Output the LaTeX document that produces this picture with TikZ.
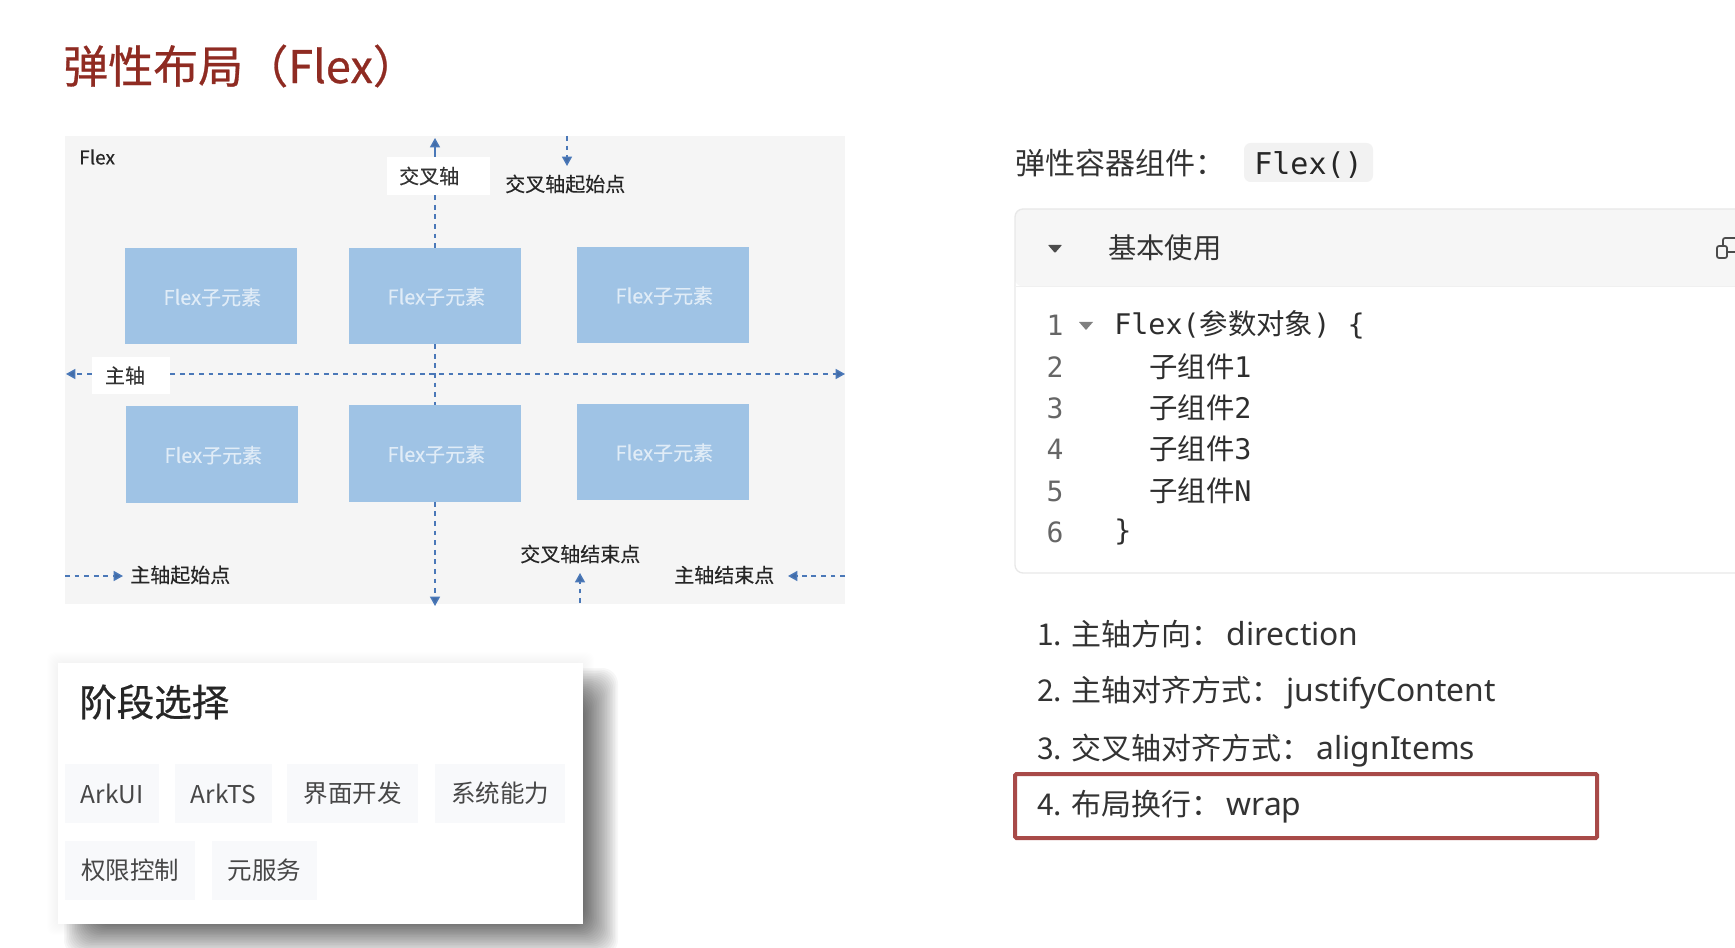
\documentclass[tikz,border=0pt]{standalone}
\usepackage{fontspec}
\usetikzlibrary{arrows.meta}
\setmainfont{Noto Sans CJK SC}
\setmonofont{DejaVu Sans Mono}
\newfontfamily\cj{Noto Sans CJK SC}
\newfontfamily\cjmed[FakeBold=0.6]{Noto Sans CJK SC}
\newfontfamily\cjsemi[FakeBold=0.3]{Noto Sans CJK SC}
\newfontfamily\lat{Noto Sans}
\newcommand{\fs}[1]{\fontsize{\fpeval{#1*0.75}pt}{\fpeval{#1*0.9}pt}\selectfont}
\newcommand{\latin}[1]{\hspace{4pt}{\lat\fs{31.8}#1}}
\definecolor{panelgray}{HTML}{F5F5F5}
\definecolor{childblue}{HTML}{9FC3E5}
\definecolor{childtext}{HTML}{E0ECF7}
\definecolor{axisblue}{HTML}{4A78B8}
\definecolor{titlered}{HTML}{8F2B22}
\definecolor{boxred}{HTML}{A84A48}
\definecolor{chipgray}{HTML}{F8F9FB}
\definecolor{txt}{HTML}{333333}
\tikzset{
  x=0.75pt,y=-0.75pt,
  child/.style={fill=childblue,text=childtext,font=\cjsemi\fs{20},inner sep=0pt,minimum width=172*0.75pt,minimum height=96*0.75pt},
  whitelab/.style={fill=white,inner sep=0pt,text=txt,font=\cjsemi\fs{20}},
  small/.style={inner sep=0pt,anchor=west,text=black!85,font=\cjsemi\fs{20}},
  axisdash/.style={draw=axisblue,line width=1.1pt,dash pattern=on 3.6pt off 3.6pt},
  axisarrow/.style={axisdash,-{Triangle[length=7pt,width=7.5pt,fill=axisblue!90!black]}},
  solidarrow/.style={draw=axisblue,line width=1.1pt,-{Triangle[length=7pt,width=7.5pt,fill=axisblue!90!black]}},
  lbl/.style={inner sep=0pt,anchor=west,text=txt},
  lnum/.style={inner sep=0pt,text=black!60,font=\ttfamily\fs{28}},
  code/.style={inner sep=0pt,anchor=west,text=black!82,font=\ttfamily\fs{28.4}},
  listitem/.style={inner sep=0pt,anchor=west,text=txt,font=\fs{30}},
  chip/.style={fill=chipgray,inner sep=0pt,text=black!72,font=\fs{24.5},minimum height=59*0.75pt},
}
\newcommand{\kid}{\raisebox{-0.5pt}[\height][\depth]{\hspace*{2pt}Flex子元素}}
\begin{document}
\begin{tikzpicture}
\useasboundingbox (0,0) rectangle (1735,948);
\clip (0,0) rectangle (1735,948);
\fill[white] (0,0) rectangle (1735,948);

% title
\node[inner sep=0pt,anchor=west,text=titlered,font=\cjmed\fs{45}] (title) at (63,66) {弹性布局（Flex）};

% flex panel
\fill[panelgray] (65,136) rectangle (845,604);
\node[inner sep=0pt,anchor=west,text=black!85,font=\cjsemi\fs{19}] (flexlabel) at (79,157) {Flex};

\node[child] (c1) at (211,296.5) {\kid};
\node[child] (c2) at (435,296) {\kid};
\node[child] (c3) at (663,295) {\kid};
\node[child] (c4) at (212,454.5) {\kid};
\node[child] (c5) at (435,453.5) {\kid};
\node[child] (c6) at (663,452) {\kid};

\node[whitelab,minimum width=103*0.75pt,minimum height=38*0.75pt] (cross) at (438.5,176) {\hspace*{-14pt}交叉轴};
\node[whitelab,minimum width=78*0.75pt,minimum height=37*0.75pt] (mainl) at (131,375.5) {\hspace*{-9pt}主轴};

\coordinate (vtop) at (435,138);
\coordinate (vbot) at (435,606);
\coordinate (hleft) at (66,374);
\coordinate (hright) at (845,374);

\draw[solidarrow] (vtop |- cross.north) -- (vtop);
\draw[axisdash] (vtop |- cross.south) -- (c2.north);
\draw[axisdash] (c2.south) -- (c5.north);
\draw[axisarrow] (c5.south) -- (vbot);
\draw[axisarrow] (mainl.west |- hleft) -- (hleft);
\draw[axisarrow] (mainl.east |- hleft) -- (hright);

\node[small] (crossstart) at (505,184) {交叉轴起始点};
\node[small] (crossend) at (520,554) {交叉轴结束点};
\node[small] (mainstart) at (130,575) {主轴起始点};
\node[small] (mainend) at (674,575) {主轴结束点};

\coordinate (a1s) at (567,136);
\coordinate (a1e) at (567,166);
\coordinate (a2s) at (580,603);
\coordinate (a2e) at (580,573);
\coordinate (a3s) at (65,576);
\coordinate (a3e) at (123,576);
\coordinate (a4s) at (845,576);
\coordinate (a4e) at (788,576);
\draw[axisarrow] (a1s) -- (a1e);
\draw[axisarrow] (a2s) -- (a2e);
\draw[axisarrow] (a3s) -- (a3e);
\draw[axisarrow] (a4s) -- (a4e);

% card with shadow
\foreach \i in {0,...,11}{
  \fill[black,opacity=0.0025,rounded corners=6pt] (58-\i,663-\i) rectangle (583+\i,924+\i);
}
\foreach \i in {0,...,29}{
  \pgfmathsetmacro{\d}{24-1.6*\i}
  \fill[black,opacity=0.03,rounded corners=12pt] (88-\d,692-\d) rectangle (594+\d,932+\d);
}
\fill[white] (58,663) rectangle (583,924);
\node[inner sep=0pt,anchor=west,text=black!85,font=\cjmed\fs{37.5}] (stage) at (79,702) {阶段选择};
\node[chip,minimum width=94*0.75pt] (s1) at (112,793.5) {ArkUI};
\node[chip,minimum width=97*0.75pt] (s2) at (223.5,793.5) {ArkTS};
\node[chip,minimum width=131*0.75pt] (s3) at (352.5,793.5) {界面开发};
\node[chip,minimum width=130*0.75pt] (s4) at (500,793.5) {系统能力};
\node[chip,minimum width=130*0.75pt] (s5) at (130,870.5) {权限控制};
\node[chip,minimum width=105*0.75pt] (s6) at (264.5,870.5) {元服务};

% right column
\node[lbl,font=\fs{30}] (ctitle) at (1015,163) {弹性容器组件：};
\node[fill=black!5,rounded corners=5pt,inner sep=0pt,minimum width=129*0.75pt,minimum height=39*0.75pt,text=black!85,font=\ttfamily\fs{30}] (chipflex) at (1308.5,162.5) {\raisebox{-1.6pt}[\height][\depth]{Flex()}};

% code panel
\fill[black!3.5,rounded corners=5pt] (1015,209) -- (1015,286) -- (1760,286) -- (1760,209) -- cycle;
\draw[black!9,line width=1pt,rounded corners=6pt] (1015,286) -- (1015,209) -- (1760,209);
\draw[black!9,line width=1pt,rounded corners=6pt] (1015,286) -- (1015,573) -- (1760,573);
\draw[black!6,line width=0.7pt] (1015,286) -- (1760,286);
\fill[black!70,rounded corners=0.5pt] (1048,245) -- (1062,245) -- (1055,253) -- cycle;
\node[lbl,font=\fs{28.3}] (basic) at (1108,248) {基本使用};
\draw[black!70,line width=1.3pt,rounded corners=1.5pt] (1717,246) -- (1727,246) -- (1727,258) -- (1717,258) -- cycle;
\draw[black!70,line width=1.3pt,rounded corners=1.5pt] (1723,246) -- (1723,238) -- (1740,238) -- (1740,252) -- (1727,252);

\node[lnum] (n1) at (1055,325) {1};
\node[lnum] (n2) at (1055,367) {2};
\node[lnum] (n3) at (1055,408) {3};
\node[lnum] (n4) at (1055,449) {4};
\node[lnum] (n5) at (1055,491) {5};
\node[lnum] (n6) at (1055,532) {6};
\fill[black!50] (1079,322) -- (1093,322) -- (1086,330) -- cycle;
\node[code] (l1) at (1114,325) {Flex({\cj 参数对象}) \{};
\node[code] (l2) at (1149,367) {{\cj 子组件}1};
\node[code] (l3) at (1149,408) {{\cj 子组件}2};
\node[code] (l4) at (1149,449) {{\cj 子组件}3};
\node[code] (l5) at (1149,491) {{\cj 子组件}N};
\node[code] (l6) at (1114,532) {\}};

% list
\node[listitem] (i1) at (1037,634) {1. 主轴方向：\latin{direction}};
\node[listitem] (i2) at (1037,693) {2. 主轴对齐方式：\latin{justifyContent}};
\node[listitem] (i3) at (1037,751) {3. 交叉轴对齐方式：\latin{alignItems}};
\node[listitem] (i4) at (1037,807) {4. 布局换行：\latin{wrap}};
\draw[boxred,line width=3pt,rounded corners=1pt] (1015,774) rectangle (1597,838);
\end{tikzpicture}
\end{document}
